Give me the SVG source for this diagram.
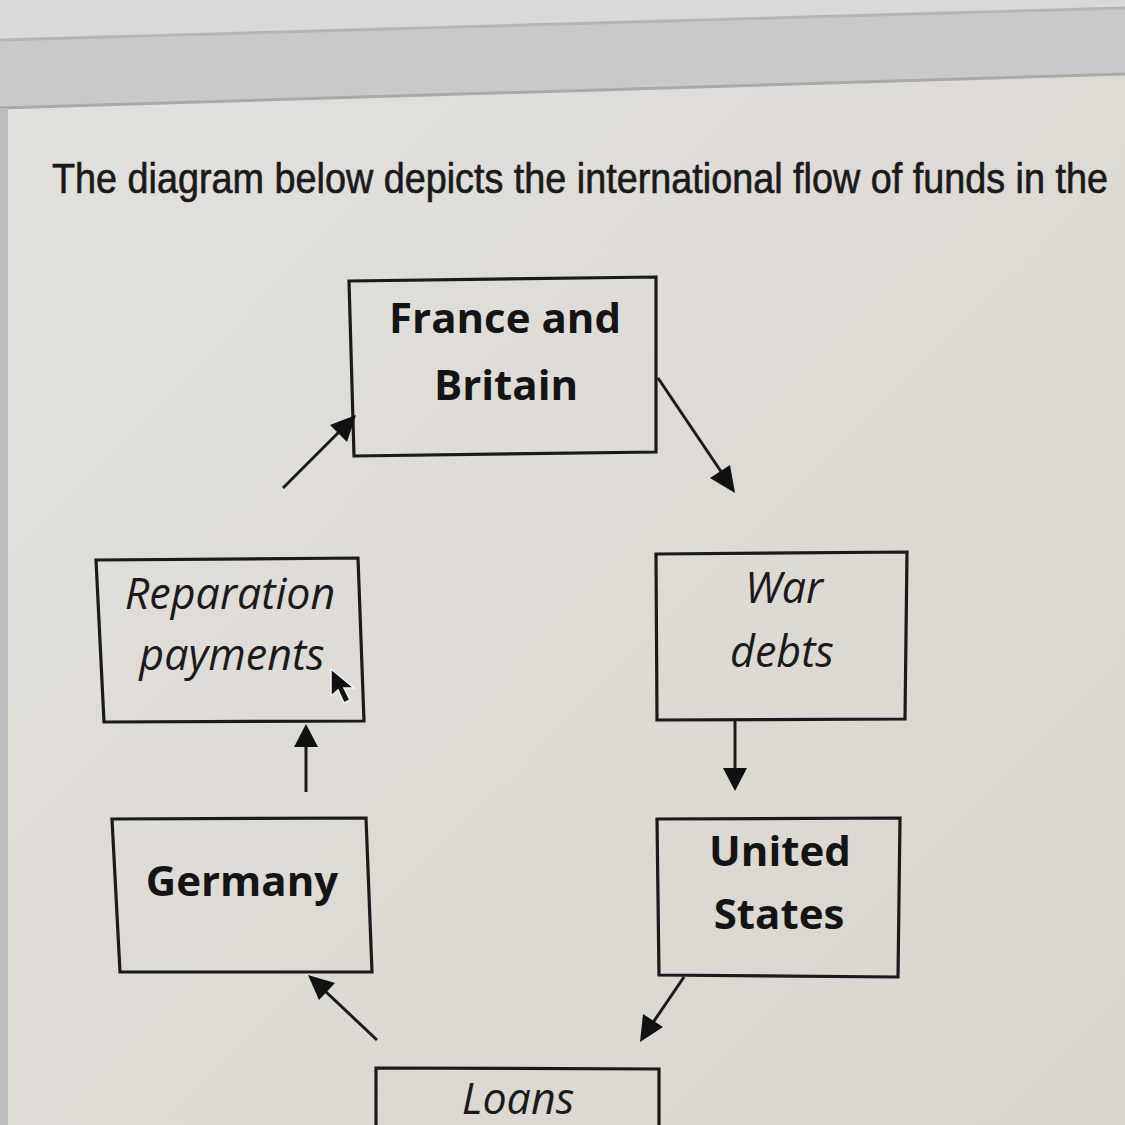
<svg xmlns="http://www.w3.org/2000/svg" width="1125" height="1125" viewBox="0 0 1125 1125">
<defs>
<linearGradient id="bg" x1="0" y1="0" x2="1" y2="1">
<stop offset="0" stop-color="#e2e1de"/>
<stop offset="0.6" stop-color="#dddad4"/>
<stop offset="1" stop-color="#d9d6d0"/>
</linearGradient>
<style>
.box{fill:none;stroke:#1a1a1a;stroke-width:3.2}
.b{font-family:"Open Sans","Liberation Sans",sans-serif;font-weight:bold;font-size:42px;fill:#141414;text-anchor:middle}
.i{font-family:"Open Sans","Liberation Sans",sans-serif;font-style:italic;font-size:43px;fill:#1a1a1a;text-anchor:middle}
.c{stroke:#1a1a1a;stroke-width:3;fill:none}
.hd{fill:#111}
</style>
</defs>
<rect width="1125" height="1125" fill="url(#bg)"/>
<polygon points="0,0 1125,0 1125,8 0,40" fill="#d9d9d9"/>
<polygon points="0,40 1125,8 1125,74 0,108" fill="#c9c9c9"/>
<line x1="0" y1="40" x2="1125" y2="8" stroke="#b5b5b5" stroke-width="3"/>
<line x1="0" y1="108" x2="1125" y2="74" stroke="#a9a9a9" stroke-width="3"/>
<rect x="0" y="108" width="8" height="1017" fill="#bdbdbd"/>
<text transform="translate(52,193) scale(1,1.1)" x="0" y="0" font-family="Liberation Sans, Arial, sans-serif" font-size="38" fill="#1a1a1a" stroke="#1a1a1a" stroke-width="0.6" textLength="1056" lengthAdjust="spacingAndGlyphs">The diagram below depicts the international flow of funds in the</text>

<g id="france-britain">
<polygon class="box" points="349,281 656,277 656,452 354,456"/>
<text class="b" x="505" y="333">France and</text>
<text class="b" x="506" y="400">Britain</text>
</g>
<g id="reparation-payments">
<polygon class="box" points="96,560 358,558 364,721 104,722"/>
<text class="i" x="230" y="609">Reparation</text>
<text class="i" x="232" y="670">payments</text>
</g>
<g id="war-debts">
<polygon class="box" points="656,554 907,552 905,719 657,720"/>
<text class="i" x="784" y="603">War</text>
<text class="i" x="782" y="667">debts</text>
</g>
<g id="germany">
<polygon class="box" points="112,819 366,818 372,972 120,972"/>
<text class="b" x="242" y="896" font-size="40">Germany</text>
</g>
<g id="united-states">
<polygon class="box" points="657,819 900,818 898,977 659,975"/>
<text class="b" x="780" y="866">United</text>
<text class="b" x="779" y="929">States</text>
</g>
<g id="loans">
<polygon class="box" points="376,1127 376,1068 659,1069 659,1127"/>
<text class="i" x="518" y="1114" font-size="41">Loans</text>
</g>

<g id="connectors">
<line class="c" x1="283" y1="488" x2="340" y2="431"/>
<polygon class="hd" points="356,415 347,442 330,425"/>
<line class="c" x1="658" y1="378" x2="722" y2="473"/>
<polygon class="hd" points="735,493 710,478 730,465"/>
<line class="c" x1="735" y1="720" x2="735" y2="770"/>
<polygon class="hd" points="735,791 723,768 747,768"/>
<line class="c" x1="306" y1="792" x2="306" y2="745"/>
<polygon class="hd" points="306,724 318,747 294,747"/>
<line class="c" x1="684" y1="977" x2="652" y2="1024"/>
<polygon class="hd" points="640,1042 643,1014 663,1027"/>
<line class="c" x1="377" y1="1040" x2="324" y2="990"/>
<polygon class="hd" points="308,975 335,983 319,1000"/>
</g>

<g id="cursor">
<polygon points="331,669 331,696 338,690 344,703 350,700 344,688 354,688" fill="#111" stroke="#f2f2f2" stroke-width="1.5"/>
</g>
</svg>
